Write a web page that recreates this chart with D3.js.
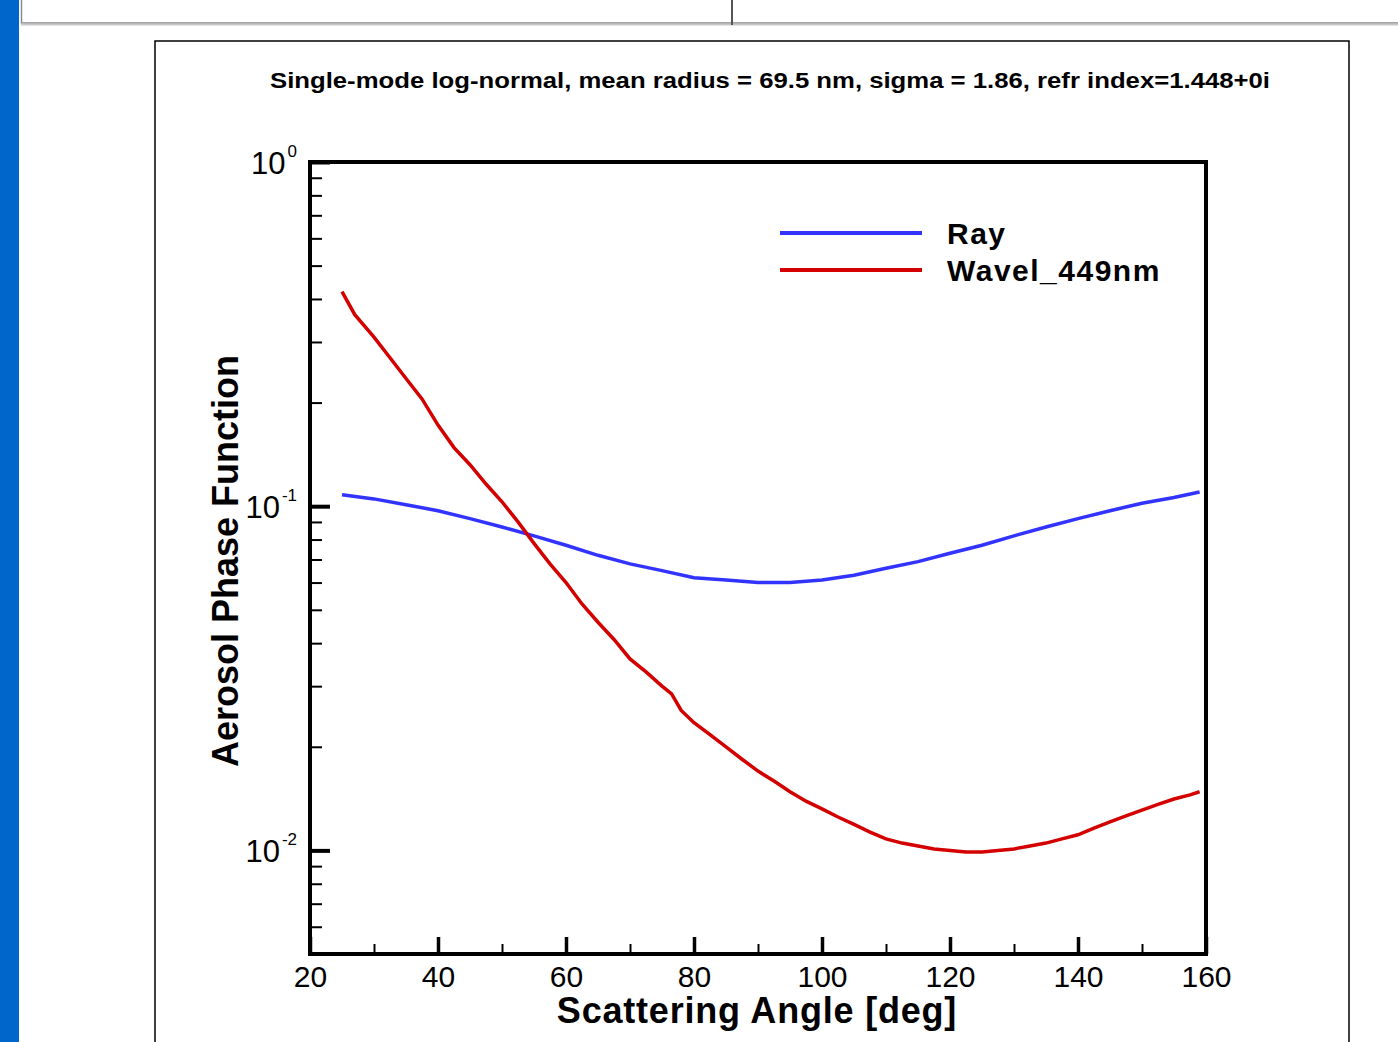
<!DOCTYPE html>
<html>
    <head>
        <title></title>
        <script src="https://d3js.org/d3.v7.min.js"></script>
    </head>

    <body style="margin:0; background:#fff">
        <svg id="phase" width="1398" height="1042"></svg>
    </body>

    <script>

        // scattering angles [deg] and phase function values
        var rayAngles = [25, 30, 35, 40, 45, 50, 55, 60, 65, 70, 75, 80, 85, 90, 95, 100,
            105, 110, 115, 120, 125, 130, 135, 140, 145, 150, 155, 159]
        var rayValues = [0.108, 0.105, 0.101, 0.097, 0.092, 0.087, 0.082, 0.077, 0.072, 0.068,
            0.065, 0.062, 0.061, 0.060, 0.060, 0.061, 0.063, 0.066, 0.069, 0.073, 0.077,
            0.082, 0.087, 0.092, 0.097, 0.102, 0.106, 0.110]

        var wavAngles = [25, 27, 30, 32.5, 35, 37.5, 40, 42.5, 45, 47.5, 50, 52.5, 55, 57.5, 60,
            62.5, 65, 67.5, 70, 72.5, 75, 76.5, 78, 80, 82.5, 85, 87.5, 90, 92.5, 95, 97.5, 100,
            102.5, 105, 107.5, 110, 112.5, 115, 117.5, 120, 122.5, 125, 127.5, 130, 132.5, 135,
            137.5, 140, 142.5, 145, 147.5, 150, 152.5, 155, 157.5, 159]
        var wavValues = [0.42, 0.36, 0.31, 0.27, 0.235, 0.205, 0.172, 0.148, 0.132, 0.116, 0.103,
            0.090, 0.078, 0.068, 0.060, 0.052, 0.046, 0.041, 0.036, 0.033, 0.030, 0.0285, 0.0255,
            0.0235, 0.0217, 0.0200, 0.0184, 0.0170, 0.0159, 0.0148, 0.0139, 0.0132, 0.0125,
            0.0119, 0.0113, 0.0108, 0.0105, 0.0103, 0.0101, 0.0100, 0.0099, 0.0099, 0.0100,
            0.0101, 0.0103, 0.0105, 0.0108, 0.0111, 0.0116, 0.0121, 0.0126, 0.0131, 0.0136,
            0.0141, 0.0145, 0.0148]

        var seriesNames = ["Ray", "Wavel_449nm"]
        var seriesColors = ["#3333ff", "#d40000"]

        // tick values
        var xMajor = [20, 40, 60, 80, 100, 120, 140, 160]
        var xMinor = [30, 50, 70, 90, 110, 130, 150]
        var yMajor = [1, 0.1, 0.01]
        var yExp = ["0", "-1", "-2"]
        var yMinor = [0.006, 0.007, 0.008, 0.009, 0.02, 0.03, 0.04, 0.05, 0.06, 0.07, 0.08, 0.09,
            0.2, 0.3, 0.4, 0.5, 0.6, 0.7, 0.8, 0.9]

        var title = "Single-mode log-normal, mean radius = 69.5 nm, sigma = 1.86, refr index=1.448+0i"

        var svg = d3.select("#phase")
        var font = "'Liberation Sans', Arial, sans-serif"

        // page chrome: blue strip and the table row cut off at the top
        svg.append("rect").attr("x", 0).attr("y", 0).attr("width", 19).attr("height", 1042).attr("fill", "#0066cc")
        svg.append("rect").attr("x", 21.5).attr("y", -5).attr("width", 1400).attr("height", 28)
            .attr("fill", "#fff").attr("stroke", "#8a8a8a").attr("stroke-width", 1.5)
        svg.append("line").attr("x1", 21).attr("x2", 1398).attr("y1", 24.5).attr("y2", 24.5)
            .attr("stroke", "#c8c8c8").attr("stroke-width", 2)
        svg.append("line").attr("x1", 732).attr("x2", 732).attr("y1", 0).attr("y2", 25)
            .attr("stroke", "#555").attr("stroke-width", 2)

        // outer frame of the plot image
        svg.append("rect").attr("x", 155).attr("y", 41).attr("width", 1194).attr("height", 1020)
            .attr("fill", "#fff").attr("stroke", "#000").attr("stroke-width", 1.5)

        svg.append("text")
            .attr("x", 770).attr("y", 88)
            .attr("text-anchor", "middle")
            .attr("font-family", font).attr("font-weight", "bold").attr("font-size", 22)
            .attr("textLength", 1000).attr("lengthAdjust", "spacingAndGlyphs")
            .text(title)

        // plot area
        var pLeft = 310, pRight = 1206, pTop = 162, pBottom = 954

        var x = d3.scaleLinear().domain([20, 160]).range([pLeft, pRight])
        var y = d3.scaleLog().domain([0.005, 1]).range([pBottom, pTop])

        // minor ticks, pointing inside
        svg.append("g")
            .attr("transform", "translate(" + pLeft + ",0)")
            .call(d3.axisLeft(y).tickValues(yMinor).tickSizeInner(-12).tickSizeOuter(0).tickFormat(""))
            .call(function(g) {
                g.select(".domain").remove()
                g.selectAll("line").attr("stroke-width", 2)
            })
        svg.append("g")
            .attr("transform", "translate(" + pLeft + ",0)")
            .call(d3.axisLeft(y).tickValues(yMajor).tickSizeInner(-20).tickSizeOuter(0).tickPadding(12).tickFormat(""))
            .call(function(g) {
                g.select(".domain").remove()
                g.selectAll("line").attr("stroke-width", 4)
                g.selectAll(".tick text").remove()
                var lab = g.selectAll(".tick").append("text")
                    .attr("x", -13).attr("dy", 11)
                    .attr("fill", "#000")
                    .attr("text-anchor", "end")
                    .attr("font-family", font).attr("font-size", 31)
                lab.append("tspan").text("10")
                lab.append("tspan").attr("dx", 2).attr("dy", -17).attr("font-size", 17).text(function(d, i) { return yExp[i] })
            })

        svg.append("g")
            .attr("transform", "translate(0," + pBottom + ")")
            .call(d3.axisBottom(x).tickValues(xMinor).tickSizeInner(-10).tickSizeOuter(0).tickFormat(""))
            .call(function(g) {
                g.select(".domain").remove()
                g.selectAll("line").attr("stroke-width", 2)
            })
        svg.append("g")
            .attr("transform", "translate(0," + pBottom + ")")
            .call(d3.axisBottom(x).tickValues(xMajor).tickSizeInner(-17).tickSizeOuter(0).tickPadding(10))
            .call(function(g) {
                g.select(".domain").remove()
                g.selectAll("line").attr("stroke-width", 3.5)
                g.selectAll(".tick text")
                    .attr("y", 33).attr("dy", 0)
                    .attr("font-family", font).attr("font-size", 30)
            })

        // box around the plot
        svg.append("rect")
            .attr("x", pLeft).attr("y", pTop)
            .attr("width", pRight - pLeft).attr("height", pBottom - pTop)
            .attr("fill", "none").attr("stroke", "#000").attr("stroke-width", 4)

        // curves
        var line = d3.line()
            .x(function(d) { return x(d[0]) })
            .y(function(d) { return y(d[1]) })

        var series = [
            d3.zip(rayAngles, rayValues),
            d3.zip(wavAngles, wavValues)
        ]

        svg.selectAll(".curve")
            .data(series)
            .enter()
            .append("path")
            .attr("class", "curve")
            .attr("d", line)
            .attr("fill", "none")
            .attr("stroke", function(d, i) { return seriesColors[i] })
            .attr("stroke-width", 3.5)

        // legend
        var legend = svg.selectAll(".legend")
            .data(seriesNames)
            .enter()
            .append("g")
            .attr("class", "legend")
            .attr("transform", function(d, i) { return "translate(780," + (233 + i * 37) + ")" })
        legend.append("line")
            .attr("x1", 0).attr("x2", 142)
            .attr("stroke", function(d, i) { return seriesColors[i] })
            .attr("stroke-width", 4)
        legend.append("text")
            .attr("x", 167).attr("y", 11)
            .attr("font-family", font).attr("font-weight", "bold").attr("font-size", 30)
            .attr("letter-spacing", 1.5)
            .text(function(d) { return d })

        // axis titles
        svg.append("text")
            .attr("x", 757).attr("y", 1023)
            .attr("text-anchor", "middle")
            .attr("font-family", font).attr("font-weight", "bold").attr("font-size", 36)
            .attr("letter-spacing", 0.8)
            .text("Scattering Angle [deg]")

        svg.append("text")
            .attr("transform", "translate(238,561) rotate(-90)")
            .attr("text-anchor", "middle")
            .attr("font-family", font).attr("font-weight", "bold").attr("font-size", 36)
            .text("Aerosol Phase Function")
    </script>
</html>
